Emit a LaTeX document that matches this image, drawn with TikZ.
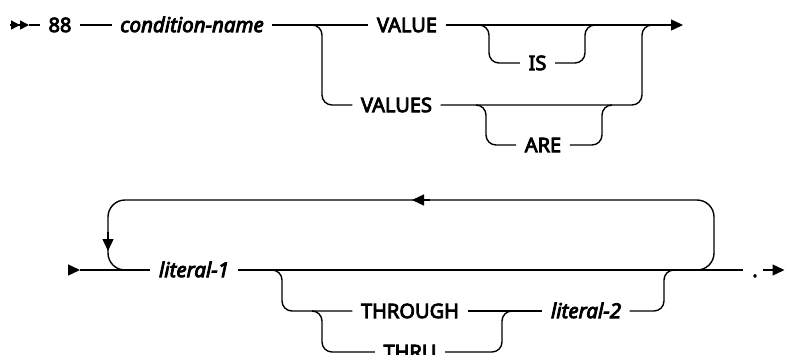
\documentclass[tikz,border=0pt]{standalone}
\usepackage{fontspec}
\setmainfont{Noto Sans}
\newfontfamily\kwfont{Noto Sans}[FakeBold=4]
\newfontfamily\varfont{Noto Sans Italic}[FakeBold=4]
\usetikzlibrary{arrows.meta}
\begin{document}
\begin{tikzpicture}[x=1pt,y=-1pt, line width=1.4pt,
  rail/.style={rounded corners=10pt},
  loop/.style={rounded corners=17pt},
  kw/.style={font=\kwfont\fontsize{20}{22}\selectfont, inner xsep=8pt, inner ysep=0pt,
             text height=14.2pt, text depth=0pt, anchor=center},
  var/.style={kw, font=\varfont\fontsize{20.5}{22}\selectfont},
  tip/.style={-{Triangle[length=12pt,width=11pt]}},
  dtip/.style={-{Triangle[length=9pt,width=9pt]Triangle[length=9pt,width=9pt]}}]
\clip (0,0) rectangle (785,354);
% ---------- row 1 ----------
\node[kw] (n88) at (60,25) {88};
\node[var] (cn) at (192,25) {condition-name};
\node[kw] (value) at (407,25) {VALUE};
\node[kw] (values) at (396.5,105) {VALUES};
\node[kw] (is) at (537.5,63) {IS};
\node[kw] (are) at (543,145) {ARE};
\coordinate (s1) at (10,25);
\coordinate (s1e) at (29,25);
\coordinate (e1) at (683,25);
\coordinate (b1) at (312,25);
\coordinate (j1) at (652,25);
\coordinate (b2) at (479,25);
\coordinate (j2) at (595,25);
\coordinate (b3) at (476,105);
\coordinate (j3) at (612,105);
\draw[dtip] (s1) -- (s1e);
\draw (s1e) -- (n88.west);
\draw (n88.east) -- (cn.west);
\draw (cn.east) -- (value.west);
\draw[tip] (value.east) -- (e1);
\draw[rail] (b1) -- ++(10,0) |- (values.west);
\draw[rail] (values.east) -| ([xshift=-10pt]j1) -- (j1);
\draw[rail] (b2) -- ++(10,0) |- (is.west);
\draw[rail] (is.east) -| ([xshift=-10pt]j2) -- (j2);
\draw[rail] (b3) -- ++(10,0) |- (are.west);
\draw[rail] (are.east) -| ([xshift=-10pt]j3) -- (j3);
% ---------- row 2 ----------
\node[var] (lit1) at (194,270) {literal-1};
\node[kw] (through) at (410,311) {THROUGH};
\node[kw] (thru) at (410,352) {THRU};
\node[var] (lit2) at (586,311) {literal-2};
\node[font=\kwfont\fontsize{20}{22}\selectfont, inner sep=0pt, anchor=base] (dot) at (755,277) {.};
\coordinate (s2) at (68,270);
\coordinate (s2e) at (80,270);
\coordinate (l1) at (128,270);
\coordinate (l2) at (697,270);
\coordinate (la) at (430,200);
\coordinate (lb) at (412,200);
\coordinate (da) at (108,232);
\coordinate (db) at (108,251);
\coordinate (e2a) at (743,270);
\coordinate (e2b) at (763,270);
\coordinate (e2) at (784.5,270);
\coordinate (b4) at (272,270);
\coordinate (j4) at (673,270);
\coordinate (b5) at (312,311);
\coordinate (j5) at (511,311);
\draw[tip] (s2) -- (s2e);
\draw (s2e) -- (lit1.west);
\draw (lit1.east) -- (e2a);
\draw[tip] (e2b) -- (e2);
\draw[loop] (l2) -- (714,270) -- (714,200) -- (108,200) -- (108,270) -- (l1);
\draw[tip] (la) -- (lb);
\draw[tip] (da) -- (db);
\draw[rail] (b4) -- ++(10,0) |- (through.west);
\draw (through.east) -- (lit2.west);
\draw[rail] (lit2.east) -| ([xshift=-9pt]j4) -- (j4);
\draw[rail] (b5) -- ++(10,0) |- (thru.west);
\draw[rail] (thru.east) -| ([xshift=-9pt]j5) -- (j5);
\end{tikzpicture}
\end{document}
